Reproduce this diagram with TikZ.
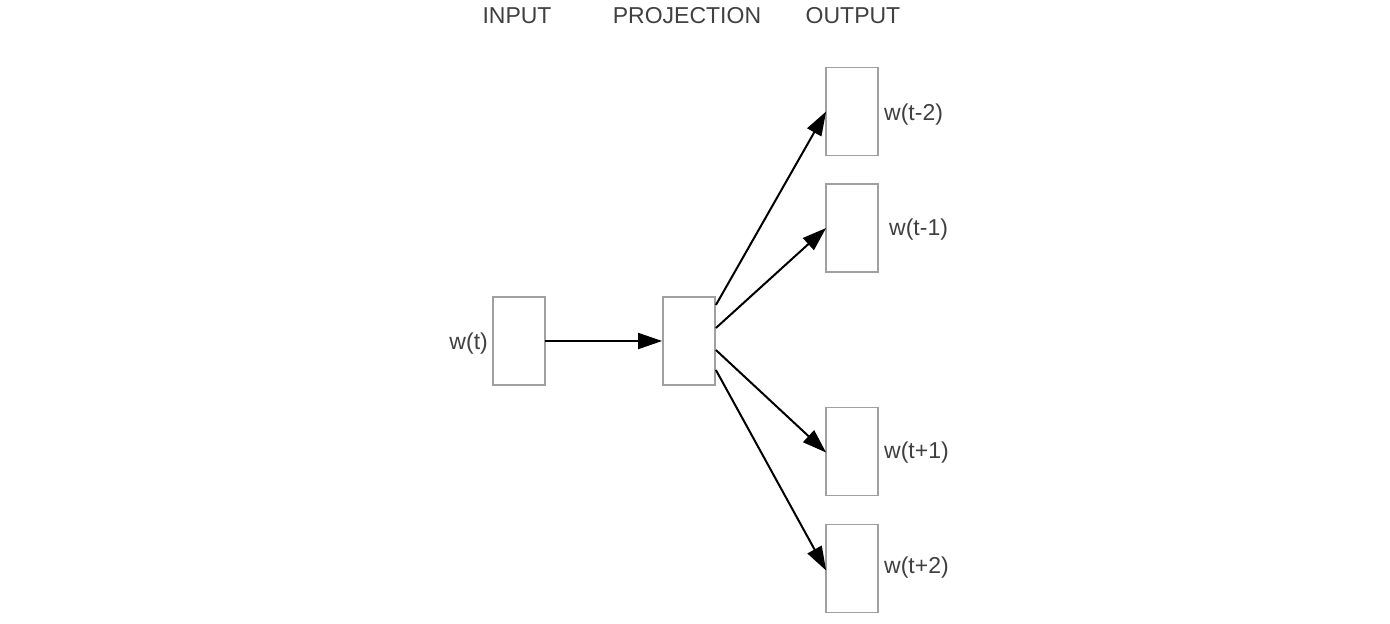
\documentclass[tikz,border=0pt]{standalone}
\usepackage{fontspec}
\setmainfont{Liberation Sans}
\usetikzlibrary{arrows.meta}
\definecolor{boxgray}{HTML}{A0A0A0}
\definecolor{txtgray}{HTML}{404040}
\begin{document}
\begin{tikzpicture}[x=1pt,y=-1pt,
  unit/.style={draw=boxgray,line width=1.8pt,fill=white,minimum width=52pt,minimum height=88pt,inner sep=0pt},
  lbl/.style={text=txtgray,font=\fontsize{23}{27}\selectfont,inner sep=0pt},
  conn/.style={line width=2pt,-{Triangle[length=24pt,width=16pt]}}]
\fill[white] (0,0) rectangle (1390,624);
\useasboundingbox (0,0) rectangle (1390,624);
% headings
\node[lbl] (hin) at (517,16) {INPUT};
\node[lbl] (hproj) at (687,16) {PROJECTION};
\node[lbl] (hout) at (853,16) {OUTPUT};
% boxes
\node[unit] (in) at (519,341) {};
\node[unit] (proj) at (689,341) {};
\node[unit] (o1) at (852,111.5) {};
\node[unit] (o2) at (852,228) {};
\node[unit] (o3) at (852,451.5) {};
\node[unit] (o4) at (852,568.5) {};
% labels
\node[lbl,anchor=east] (lin) at (488,344) {w(t)};
\node[lbl,anchor=west] (l1) at (884,115) {w(t-2)};
\node[lbl,anchor=west] (l2) at (889,230) {w(t-1)};
\node[lbl,anchor=west] (l3) at (884,453) {w(t+1)};
\node[lbl,anchor=west] (l4) at (884,568) {w(t+2)};
% connectors
\draw[conn] ([xshift=-1pt]in.east) -- (proj.west);
\draw[conn] ([yshift=36pt]proj.east) -- ([xshift=1pt]o1.west);
\draw[conn] ([yshift=13pt]proj.east) -- ([xshift=1pt]o2.west);
\draw[conn] ([yshift=-9pt]proj.east) -- ([xshift=1pt,yshift=-1pt]o3.west);
\draw[conn] ([yshift=-29pt]proj.east) -- ([xshift=1pt,yshift=-2pt]o4.west);
\end{tikzpicture}
\end{document}
